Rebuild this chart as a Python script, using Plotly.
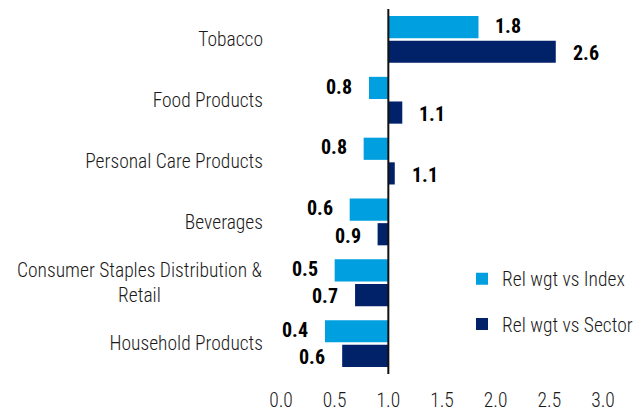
import plotly.graph_objects as go

# Relative weights (1.0 = neutral) by industry
categories = [
    "Tobacco",
    "Food Products",
    "Personal Care Products",
    "Beverages",
    "Consumer Staples Distribution & Retail",
    "Household Products",
]
rel_vs_index = [1.84, 0.82, 0.77, 0.64, 0.50, 0.41]
rel_vs_sector = [2.56, 1.13, 1.06, 0.90, 0.69, 0.57]
series_names = ["Rel wgt vs Index", "Rel wgt vs Sector"]
x_ticks = [0.0, 0.5, 1.0, 1.5, 2.0, 2.5, 3.0]

BASE = 1.0
COLORS = ["#009FDF", "#012169"]
FONT = "Roboto Condensed, DejaVu Sans Condensed, sans-serif"
TEXT_SIZE = 19.5
TEXT_COLOR = "#1a1a1a"

# The long category label is drawn as a centred two-line annotation
tick_text = ["" if c.startswith("Consumer Staples") else c for c in categories]

fig = go.Figure()
for name, vals, col in zip(series_names, [rel_vs_index, rel_vs_sector], COLORS):
    fig.add_trace(go.Bar(
        y=categories,
        x=[v - BASE for v in vals],
        base=BASE,
        orientation="h",
        name=name,
        legendgroup=name,
        marker=dict(color=col, line=dict(width=0)),
        hoverinfo="skip",
    ))

# Value labels just beyond the end of each bar
BAR_SHIFT = 13.7
annotations = []
for k, vals in enumerate([rel_vs_index, rel_vs_sector]):
    yshift = BAR_SHIFT if k == 0 else -BAR_SHIFT
    for cat, v in zip(categories, vals):
        right = v >= BASE
        annotations.append(dict(
            x=v, y=cat, xref="x", yref="y",
            text=f"<b>{v:.1f}</b>",
            showarrow=False,
            xanchor="left" if right else "right",
            xshift=15 if right else -15,
            yshift=yshift,
            font=dict(family=FONT, size=20, color="#000000"),
        ))

for c in categories:
    if c.startswith("Consumer Staples"):
        annotations.append(dict(
            x=0, y=c, xref="paper", yref="y",
            text="Consumer Staples Distribution &<br>Retail",
            showarrow=False, xanchor="right", align="center",
            xshift=-17,
            font=dict(family=FONT, size=TEXT_SIZE, color=TEXT_COLOR, weight=300),
        ))

fig.add_shape(type="line", x0=BASE, x1=BASE, y0=0, y1=1, xref="x", yref="paper",
              line=dict(color="#111111", width=2))

fig.update_layout(
    width=634, height=413,
    margin=dict(l=281, r=31, t=9, b=39, autoexpand=False),
    paper_bgcolor="white", plot_bgcolor="white",
    barmode="group", bargap=0.19, bargroupgap=0.1,
    font=dict(family=FONT, size=TEXT_SIZE, color=TEXT_COLOR, weight=300),
    annotations=annotations,
    showlegend=True,
    legend=dict(
        xref="container", yref="container",
        x=0.7287, y=0.270, xanchor="left", yanchor="middle",
        traceorder="grouped", tracegroupgap=17,
        font=dict(family=FONT, size=TEXT_SIZE, color=TEXT_COLOR, weight=300),
        bgcolor="rgba(0,0,0,0)",
    ),
    xaxis=dict(
        range=[0, 3], tickvals=x_ticks, ticktext=[f"{t:.1f}" for t in x_ticks],
        showgrid=False, zeroline=False, showline=False, ticks="",
        ticklabelstandoff=12, automargin=False,
    ),
    yaxis=dict(
        categoryorder="array", categoryarray=categories, autorange="reversed",
        tickvals=categories, ticktext=tick_text,
        showgrid=False, zeroline=False, showline=False, ticks="",
        ticklabelstandoff=17, automargin=False,
    ),
)

fig.write_html("out.html")
